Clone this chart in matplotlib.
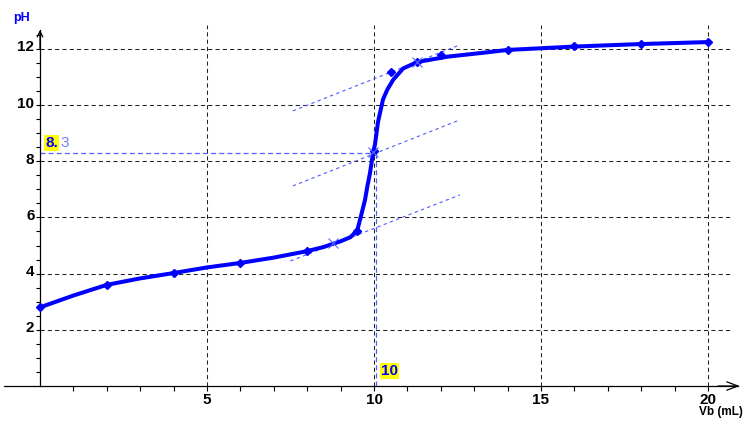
#Titration curve of a weak acid by a strong base, with the parallel tangent method
import matplotlib.pyplot as plt
from matplotlib.transforms import ScaledTranslation

plt.rcParams['font.family'] = ['Liberation Sans', 'DejaVu Sans']
plt.rcParams['font.weight'] = 'bold'

#Smooth curve
vb_curve = [0, 1, 2, 3, 4, 5, 6, 7, 8, 8.5, 9, 9.3, 9.5, 9.6, 9.73, 9.8, 9.88, 9.97,
            10.03, 10.12, 10.27, 10.4, 10.57, 10.87, 11.3, 12.2, 13.2, 14, 16, 18, 20]
ph_curve = [2.8, 3.22, 3.6, 3.83, 4.02, 4.22, 4.38, 4.57, 4.8, 4.95, 5.15, 5.3, 5.55, 6.0,
            6.62, 7.1, 7.58, 8.29, 8.6, 9.4, 10.2, 10.55, 10.89, 11.3, 11.53, 11.72, 11.85,
            11.96, 12.08, 12.17, 12.24]

#Measured points
vb_pts = [0, 2, 4, 6, 8, 9.5, 10, 10.5, 11.3, 12, 14, 16, 18, 20]
ph_pts = [2.8, 3.6, 4.02, 4.38, 4.8, 5.5, 8.35, 11.17, 11.53, 11.78, 11.96, 12.1, 12.17, 12.24]

#Parallel tangents (start and end points) and tangent points
tan_x0 = [7.5, 7.57, 7.57]
tan_y0 = [4.45, 7.12, 9.79]
tan_x1 = [12.57, 12.57, 12.57]
tan_y1 = [6.8, 9.47, 12.14]
touch_x = [8.77, 9.97, 11.29]
touch_y = [5.09, 8.33, 11.53]

#Equivalence point
veq = 10
pheq = 8.3

x_ticks = [5, 10, 15, 20]
y_ticks = [2, 4, 6, 8, 10, 12]

fig = plt.figure(figsize=(7.45, 4.26), dpi=100)
ax = fig.add_axes([0, 0, 1, 1])
ax.set_xlim(-1.198, 21.108)
ax.set_ylim(-1.423, 13.737)

#Grid
grid_style = dict(color='#222222', lw=0.75, linestyle=(0, (4, 3)), zorder=1)
for x in x_ticks:
    ax.plot([x, x], [0, 12.85], **grid_style)
for y in y_ticks:
    ax.plot([0, 20.7], [y, y], **grid_style)

#Axes through zero
for side in ['top', 'right']:
    ax.spines[side].set_visible(False)
ax.spines['left'].set_position(('data', 0))
ax.spines['bottom'].set_position(('data', 0))
ax.spines['left'].set_bounds(0, 12.67)
ax.spines['bottom'].set_bounds(-1.08, 20.9)
ax.spines['left'].set_linewidth(0.9)
ax.spines['bottom'].set_linewidth(0.9)
ax.annotate('', xy=(0, 12.67), xytext=(0, 12.0),
            arrowprops=dict(arrowstyle='->', lw=0.9, color='black', mutation_scale=10,
                            shrinkA=0, shrinkB=0))
ax.annotate('', xy=(20.95, 0), xytext=(20.3, 0),
            arrowprops=dict(arrowstyle='->,head_length=0.8,head_width=0.3', lw=0.9,
                            color='black', mutation_scale=10, shrinkA=0, shrinkB=0))

ax.set_xticks(x_ticks, [str(x) for x in x_ticks])
ax.set_yticks(y_ticks, [str(y) for y in y_ticks])
ax.set_xticks(range(1, 21), minor=True)
ax.set_yticks([i * 0.5 for i in range(1, 26)], minor=True)
ax.tick_params(axis='x', which='both', direction='out', length=3.6, width=0.8, pad=1.5,
               labelsize=11)
ax.tick_params(axis='y', which='both', direction='out', length=3.0, width=0.8, pad=1,
               labelsize=11)
for label in ax.get_yticklabels():
    label.set_transform(label.get_transform() + ScaledTranslation(0, 3 / 100, fig.dpi_scale_trans))

#Tangent lines
for i in range(len(tan_x0)):
    ax.plot([tan_x0[i], tan_x1[i]], [tan_y0[i], tan_y1[i]], color='#4a5cff', lw=0.8,
            linestyle=(0, (3, 3)), zorder=2)

#Equivalence point lines
ax.plot([0, veq], [pheq, pheq], color='#5060ff', lw=0.9, linestyle=(0, (4, 2.5)), zorder=2)
ax.plot([veq + 0.05, veq + 0.05], [0, pheq], color='#5060ff', lw=0.9,
        linestyle=(0, (4, 2.5)), zorder=2)

#Curve
ax.plot(vb_curve, ph_curve, color='#0000ff', lw=2.9, solid_capstyle='round', zorder=3)
ax.plot(vb_pts, ph_pts, 'D', color='#0000ff', markersize=4, zorder=4)
ax.plot(touch_x, touch_y, 'x', color='#5a6aff', markersize=7, mew=0.8, zorder=5)

#Labels
ax.text(0.15, 8.5, '8.', color='#0000ff', fontsize=11, ha='left', va='baseline',
        bbox=dict(facecolor='yellow', edgecolor='none', pad=0.5))
ax.text(0.62, 8.5, '3', color='#6f80ff', fontsize=11, fontweight='normal', ha='left',
        va='baseline')
ax.text(10.2, 0.27, str(veq), color='#0000ff', fontsize=11, ha='left', va='bottom',
        bbox=dict(facecolor='yellow', edgecolor='none', pad=0.8))
ax.text(-0.81, 13.31, 'pH', color='#0000ff', fontsize=9, ha='left', va='top')
ax.text(21.05, -0.72, 'Vb (mL)', color='black', fontsize=8.5, ha='right', va='top')

plt.savefig('out.png')
